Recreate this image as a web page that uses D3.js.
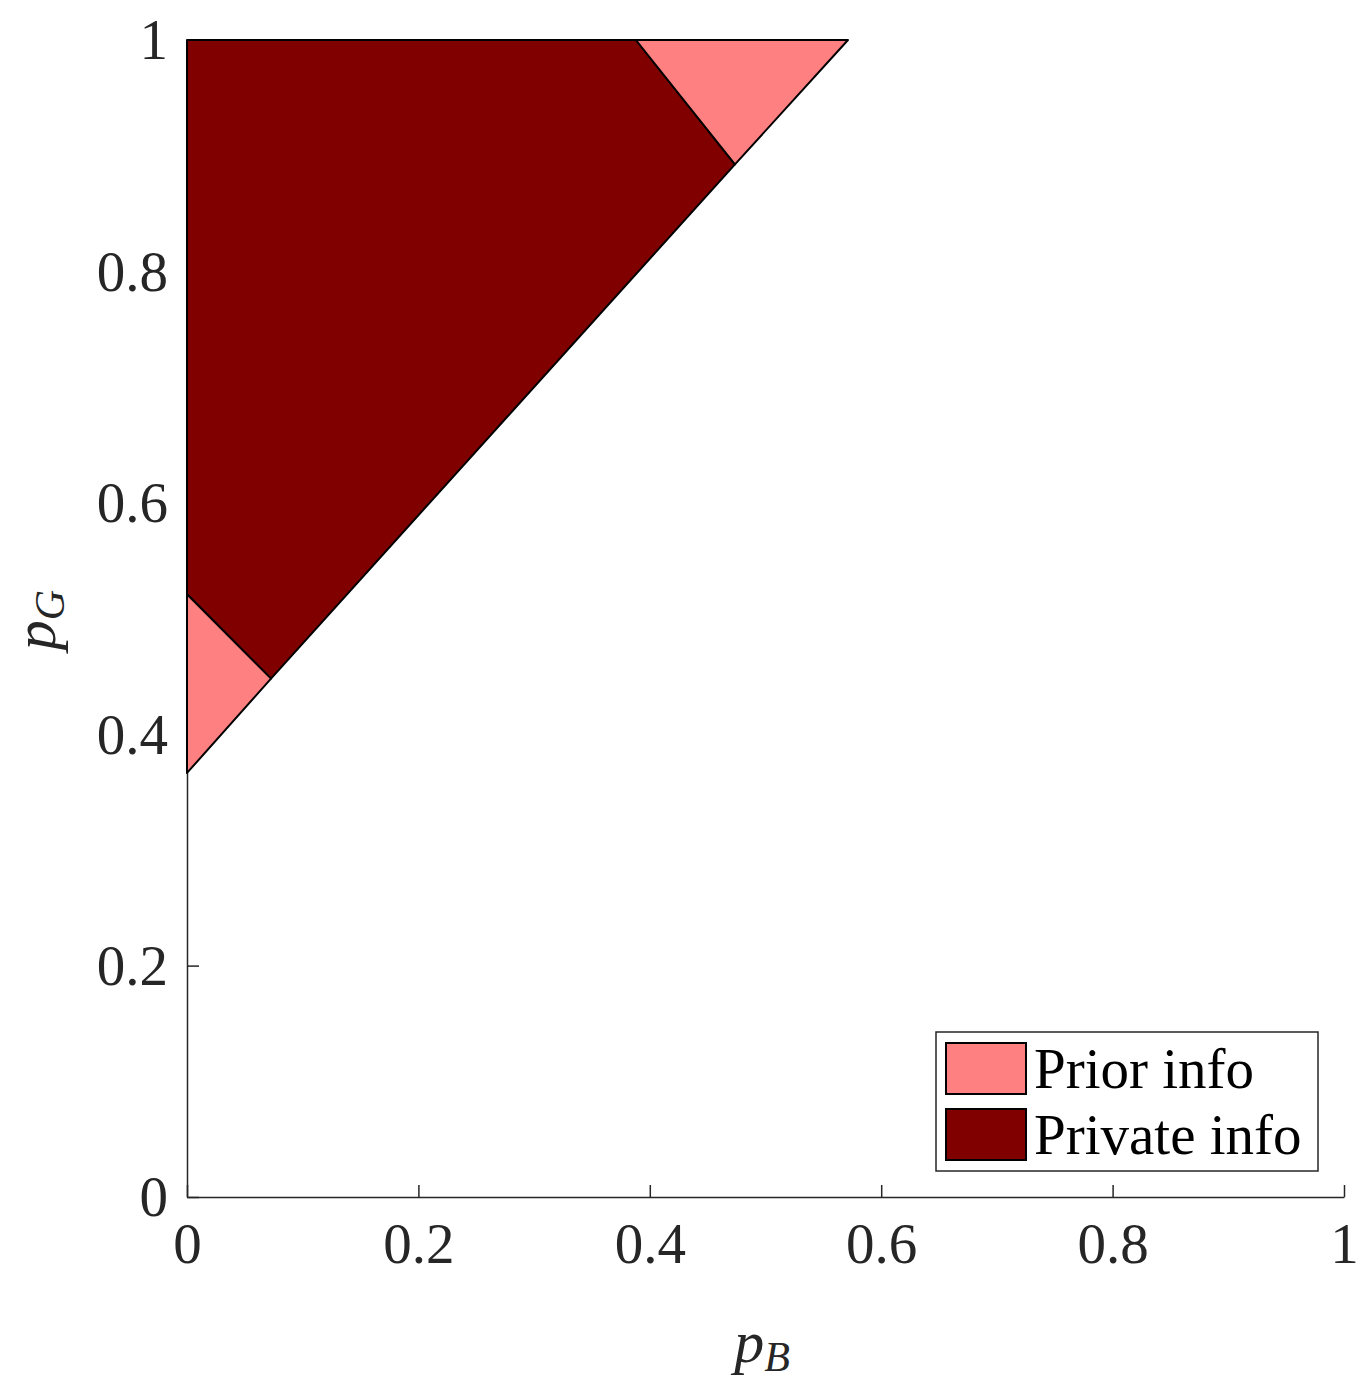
<!DOCTYPE html>
<html>
<head>
<meta charset="utf-8">
<script src="https://cdn.jsdelivr.net/npm/d3@7"></script>
<style>
  body { margin: 0; background: #fff; }
  text { font-family: "Liberation Serif", "DejaVu Serif", serif; }
</style>
</head>
<body>
<svg id="chart" width="1360" height="1385"></svg>
<script>
// region vertices, [pB, pG]
var priorLow = [[0, 0.3665], [0, 0.521], [0.0726, 0.448]];
var privateRegion = [[0, 0.521], [0, 1], [0.388, 1], [0.4736, 0.8925], [0.0726, 0.448]];
var priorHigh = [[0.388, 1], [0.5713, 1], [0.4736, 0.8925]];
var xTicks = [0, 0.2, 0.4, 0.6, 0.8, 1];
var yTicks = [0, 0.2, 0.4, 0.6, 0.8, 1];
var legendItems = ["Prior info", "Private info"];
var legendColors = ["#ff8080", "#800000"];

var svg = d3.select("#chart");
var margin = {top: 40, left: 187},
    width = 1157,
    height = 1157,
    g = svg.append("g").attr("transform", "translate(" + margin.left + "," + margin.top + ")");

var x = d3.scaleLinear().domain([0, 1]).range([0, width]);
var y = d3.scaleLinear().domain([0, 1]).range([height, 0]);

var tickFmt = function(d) { return d === 0 || d === 1 ? String(d) : d3.format(".1f")(d); };

// axes, inward ticks
var xAxis = g.append("g")
    .attr("transform", "translate(0," + height + ")")
    .call(d3.axisBottom(x).tickValues(xTicks).tickFormat(tickFmt).tickSizeInner(-12).tickSizeOuter(0).tickPadding(26));
var yAxis = g.append("g")
    .call(d3.axisLeft(y).tickValues(yTicks).tickFormat(tickFmt).tickSizeInner(-12).tickSizeOuter(0).tickPadding(19));

[xAxis, yAxis].forEach(function(a) {
  a.select(".domain").attr("stroke", "#262626").attr("stroke-width", 1.5);
  a.selectAll(".tick line").attr("stroke", "#262626").attr("stroke-width", 1.5);
  a.selectAll(".tick text").attr("fill", "#262626").style("font-size", "57px")
    .style("font-family", "'Liberation Serif', serif");
});
xAxis.selectAll(".tick text").attr("dy", "0.71em");
yAxis.selectAll(".tick text").attr("dy", "0.33em");

var line = d3.line().x(function(d) { return x(d[0]); }).y(function(d) { return y(d[1]); });

[[privateRegion, legendColors[1]], [priorLow, legendColors[0]], [priorHigh, legendColors[0]]].forEach(function(p) {
  g.append("path")
    .attr("d", line(p[0]) + "Z")
    .attr("fill", p[1])
    .attr("stroke", "#000")
    .attr("stroke-width", 2)
    .attr("stroke-linejoin", "round");
});

// axis labels
var xl = svg.append("text")
    .attr("x", 762).attr("y", 1362)
    .attr("text-anchor", "middle")
    .attr("fill", "#262626")
    .style("font-size", "60px")
    .style("font-style", "italic");
xl.append("tspan").text("p");
xl.append("tspan").attr("dy", 9).style("font-size", "42px").text("B");

var yl = svg.append("text")
    .attr("transform", "translate(55,620) rotate(-90)")
    .attr("text-anchor", "middle")
    .attr("fill", "#262626")
    .style("font-size", "60px")
    .style("font-style", "italic");
yl.append("tspan").text("p");
yl.append("tspan").attr("dy", 9).style("font-size", "42px").text("G");

// legend
var legend = svg.append("g").attr("transform", "translate(936,1032)");
legend.append("rect")
    .attr("width", 382).attr("height", 139)
    .attr("fill", "#fff").attr("stroke", "#262626").attr("stroke-width", 1.5);

var item = legend.selectAll(".item")
    .data(legendItems)
  .enter().append("g")
    .attr("transform", function(d, i) { return "translate(10," + (11 + i * 66) + ")"; });

item.append("rect")
    .attr("width", 80).attr("height", 51)
    .attr("fill", function(d, i) { return legendColors[i]; })
    .attr("stroke", "#000").attr("stroke-width", 2);

item.append("text")
    .attr("x", 88).attr("y", 26)
    .attr("dy", "0.33em")
    .attr("fill", "#000")
    .style("font-size", "57px")
    .text(function(d) { return d; });
</script>
</body>
</html>
